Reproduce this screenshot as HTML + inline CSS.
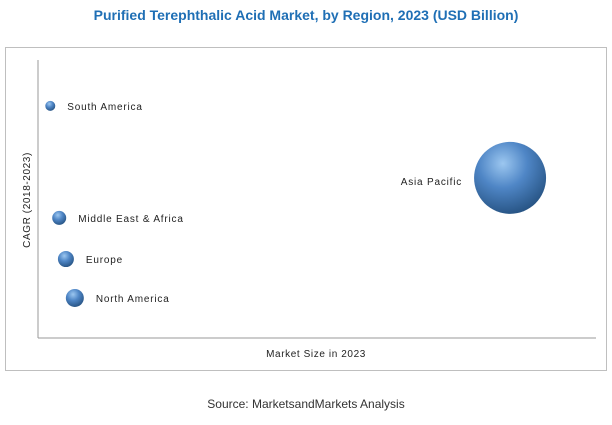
<!DOCTYPE html>
<html><head><meta charset="utf-8"><style>
body{margin:0;background:#fff;width:612px;height:420px;overflow:hidden;font-family:"Liberation Sans",sans-serif}
</style></head><body>
<svg width="612" height="420">
<defs>
<radialGradient id="g" cx="0.4" cy="0.3" r="0.75">
<stop offset="0" stop-color="#9cc7f0"/><stop offset="0.45" stop-color="#4f86c6"/><stop offset="1" stop-color="#24507f"/>
</radialGradient>
</defs>
<text x="306" y="20" text-anchor="middle" font-size="14" font-weight="bold" fill="#1f6fb5">Purified Terephthalic Acid Market, by Region, 2023 (USD Billion)</text>
<rect x="5.5" y="47.5" width="601" height="323" fill="none" stroke="#bfbfbf"/>
<line x1="38" y1="60" x2="38" y2="338" stroke="#999"/>
<line x1="38" y1="338" x2="596" y2="338" stroke="#999"/>
<text x="316" y="357" text-anchor="middle" font-size="10" letter-spacing="0.6" fill="#222">Market Size in 2023</text>
<text transform="translate(30,200) rotate(-90)" text-anchor="middle" font-size="10" letter-spacing="0.6" fill="#222">CAGR (2018-2023)</text>
<g id="bubbles"></g>
<text x="306" y="408" text-anchor="middle" font-size="12" fill="#333">Source: MarketsandMarkets Analysis</text>
</svg>
<script>
const regions=["South America","Middle East & Africa","Europe","North America","Asia Pacific"];
const marketSize=[2.2,3.8,5.0,6.6,84.6];
const cagr=[83.5,43.2,28.4,14.4,57.6];
const bubbleSize=[25,49,64,81,1296];
const xs=v=>38+v/100*558, ys=v=>338-v/100*278, rs=v=>Math.sqrt(v);
const g=document.getElementById('bubbles'),NS="http://www.w3.org/2000/svg";
regions.forEach((n,i)=>{
 const cx=xs(marketSize[i]),cy=ys(cagr[i]),r=rs(bubbleSize[i]);
 const c=document.createElementNS(NS,'circle');
 c.setAttribute('cx',cx);c.setAttribute('cy',cy);c.setAttribute('r',r);c.setAttribute('fill','url(#g)');
 
 
 g.appendChild(c);
 const t=document.createElementNS(NS,'text');
 const left=r>20;
 t.setAttribute('x',left?cx-r-12:cx+r+12);t.setAttribute('y',cy+(left?7:4));
 t.setAttribute('text-anchor',left?'end':'start');
 t.setAttribute('font-size','10');t.setAttribute('fill','#222');
 t.setAttribute('letter-spacing','0.8');
 t.textContent=n;
 
 
 g.appendChild(t);
});
</script>
</body></html>
